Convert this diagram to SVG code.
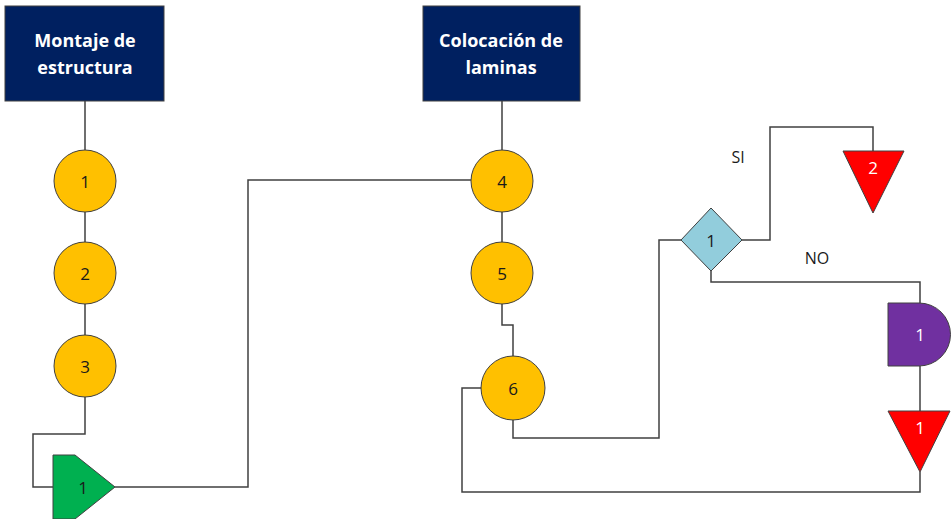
<svg xmlns="http://www.w3.org/2000/svg" width="951" height="519" viewBox="0 0 951 519">
<style>
.box{fill:#002060;stroke:#404040;stroke-width:1}
.bt{fill:#fff;font-family:"Open Sans","Liberation Sans",sans-serif;font-weight:bold;font-size:18px;text-anchor:middle}
.op{fill:#FFC000;stroke:#404040;stroke-width:1}
.n{font-family:"Open Sans","Liberation Sans",sans-serif;font-size:17px;text-anchor:middle;dominant-baseline:central;fill:#1a1a1a}
.w{fill:#fff}
.ln{fill:none;stroke:#404040;stroke-width:1.5}
.lb{font-family:"Open Sans","Liberation Sans",sans-serif;font-size:16px;text-anchor:middle;fill:#1a1a1a}
</style>
<rect width="951" height="519" fill="#fff"/>
<g id="connectors">
<path class="ln" d="M85,101 V150 M85,212 V242 M85,304 V335"/>
<path class="ln" d="M85,397 V434 H33 V487 H53"/>
<path class="ln" d="M115,487 H248 V180 H471"/>
<path class="ln" d="M502,101 V150 M502,212 V242"/>
<path class="ln" d="M502,304 V325 H513 V357"/>
<path class="ln" d="M513,420 V438 H659 V240 H681"/>
<path class="ln" d="M742,240 H770 V127 H873 V151"/>
<path class="ln" d="M711,271 V282 H920 V303"/>
<path class="ln" d="M920,366 V411"/>
<path class="ln" d="M920,472 V492 H462 V388 H482"/>
</g>
<g id="box1"><rect class="box" x="5" y="6" width="159" height="95"/><text class="bt" x="85" y="47">Montaje de</text><text class="bt" x="85" y="74">estructura</text></g>
<g id="box2"><rect class="box" x="423" y="6" width="157" height="95"/><text class="bt" x="501" y="47">Colocación de</text><text class="bt" x="501" y="74">laminas</text></g>
<g id="op1"><circle class="op" cx="85" cy="181" r="31"/><text class="n" x="85" y="181">1</text></g>
<g id="op2"><circle class="op" cx="85" cy="273" r="31"/><text class="n" x="85" y="273">2</text></g>
<g id="op3"><circle class="op" cx="85" cy="366" r="31"/><text class="n" x="85" y="366">3</text></g>
<g id="op4"><circle class="op" cx="502" cy="181" r="31"/><text class="n" x="502" y="181">4</text></g>
<g id="op5"><circle class="op" cx="502" cy="273" r="31"/><text class="n" x="502" y="273">5</text></g>
<g id="op6"><circle class="op" cx="513" cy="388" r="32"/><text class="n" x="513" y="388">6</text></g>
<g id="transport1"><polygon points="53,455 75,455 115,487 75,519 53,519" fill="#00B050" stroke="#404040" stroke-width="1"/><text class="n" x="83" y="487">1</text></g>
<g id="decision1"><polygon points="711,208 742,240 711,271 681,240" fill="#92CDDC" stroke="#404040" stroke-width="1"/><text class="n" x="711" y="240">1</text></g>
<g id="store2"><polygon points="843,151 904,151 873,213" fill="#FF0000" stroke="#404040" stroke-width="1"/><text class="n w" x="873" y="167">2</text></g>
<g id="delay1"><path d="M888,303 H919 A31.5,31.5 0 0 1 919,366 H888 Z" fill="#7030A0" stroke="#404040" stroke-width="1"/><text class="n w" x="920" y="334">1</text></g>
<g id="store1"><polygon points="888,411 950,411 920,472" fill="#FF0000" stroke="#404040" stroke-width="1"/><text class="n w" x="920" y="427">1</text></g>
<text class="lb" x="738" y="163">SI</text>
<text class="lb" x="817" y="264">NO</text>
</svg>
